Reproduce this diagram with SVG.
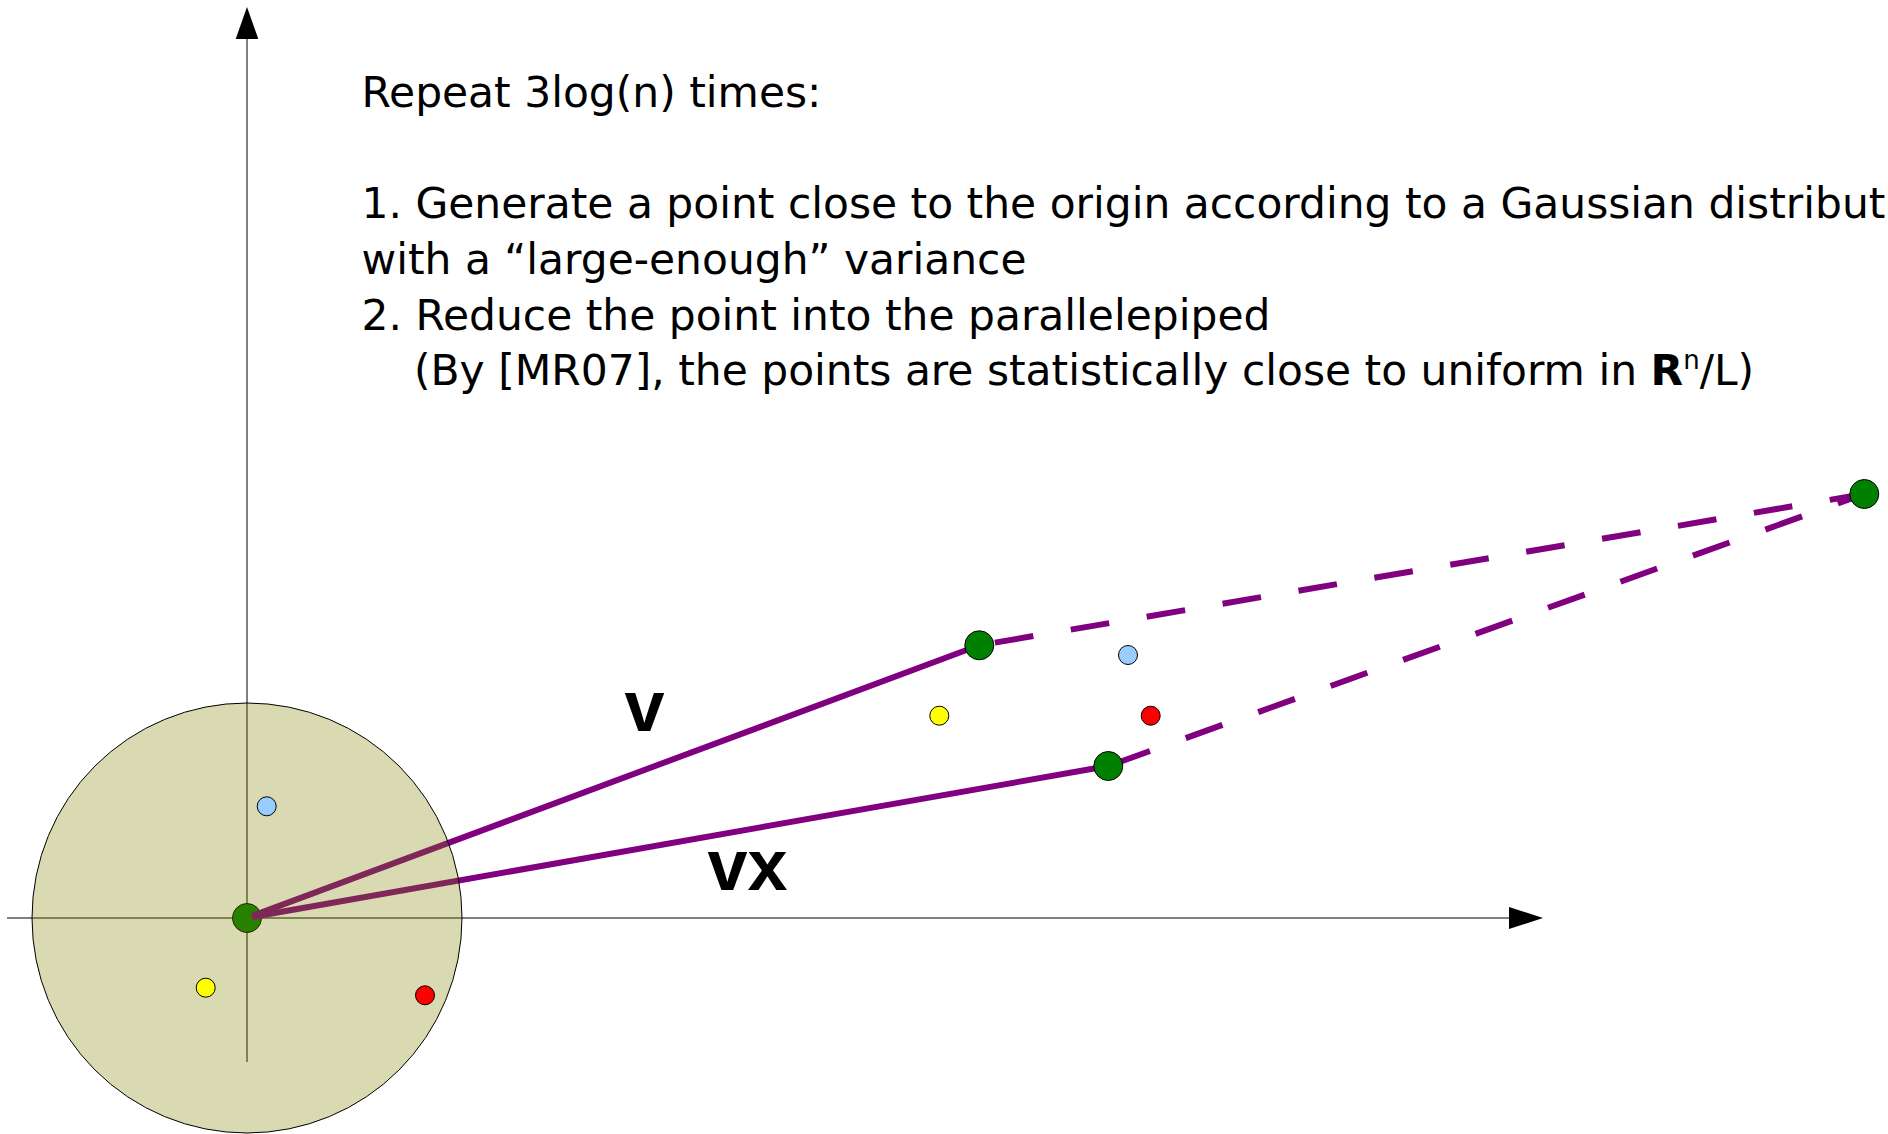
<svg xmlns="http://www.w3.org/2000/svg" width="1888" height="1134" viewBox="0 0 1888 1134">
<defs>
<style>
.axis{stroke:#000;stroke-width:1;fill:none}
.head{fill:#000}
.vec{stroke:#800080;stroke-width:6;fill:none}
.dash{stroke:#800080;stroke-width:6;fill:none;stroke-dasharray:39 38}
.big{fill:#008000;stroke:#000;stroke-width:1}
.sm{stroke:#000;stroke-width:1}
.txt{font-family:"DejaVu Sans","Liberation Sans",sans-serif;font-size:42.4px;fill:#000}
.lbl{font-family:"Liberation Sans","DejaVu Sans",sans-serif;font-weight:bold;font-size:72px;fill:#000}
</style>
</defs>
<rect width="1888" height="1134" fill="#fff"/>
<g id="axes">
<line class="axis" x1="247" y1="1062" x2="247" y2="38"/>
<polygon class="head" points="247,7 235.7,39 258.3,39"/>
<line class="axis" x1="7" y1="918" x2="1510" y2="918"/>
<polygon class="head" points="1543,918 1509,907 1509,929"/>
</g>
<g id="node-origin"><circle class="big" cx="247" cy="918" r="14.5"/></g>
<g id="connectors">
<line class="vec" x1="252" y1="916" x2="979.3" y2="645.3"/>
<line class="vec" x1="252" y1="917" x2="1108.3" y2="766"/>
<line class="dash" style="stroke-dashoffset:61.2" x1="979.3" y1="645.3" x2="1864.3" y2="494"/>
<line class="dash" style="stroke-dashoffset:71.7" x1="1108.3" y1="766" x2="1864.3" y2="494"/>
</g>
<g id="node-disc"><circle cx="247" cy="918" r="215" fill="#808000" fill-opacity="0.3" stroke="#000" stroke-width="1"/></g>
<g id="node-blue-in"><circle class="sm" cx="266.7" cy="806.3" r="9.5" fill="#99ccff"/></g>
<g id="node-yellow-in"><circle class="sm" cx="205.7" cy="987.7" r="9.5" fill="#ffff00"/></g>
<g id="node-red-in"><circle class="sm" cx="425" cy="995.3" r="9.5" fill="#ff0000"/></g>
<g id="node-blue-out"><circle class="sm" cx="1128" cy="655" r="9.5" fill="#99ccff"/></g>
<g id="node-yellow-out"><circle class="sm" cx="939.3" cy="715.7" r="9.5" fill="#ffff00"/></g>
<g id="node-red-out"><circle class="sm" cx="1150.7" cy="715.7" r="9.5" fill="#ff0000"/></g>
<g id="node-v"><circle class="big" cx="979.3" cy="645.3" r="14.5"/></g>
<g id="node-vx"><circle class="big" cx="1108.3" cy="766" r="14.5"/></g>
<g id="node-sum"><circle class="big" cx="1864.3" cy="494" r="14.5"/></g>
<g id="labels">
<text class="lbl" x="624.5" y="731">v</text>
<text class="lbl" x="707.5" y="890">vx</text>
</g>
<g id="text">
<text class="txt" x="361.5" y="107">Repeat 3log(n) times:</text>
<text class="txt" x="361.5" y="218">1. Generate a point close to the origin according to a Gaussian distribut</text>
<text class="txt" x="361.5" y="274">with a “large-enough” variance</text>
<text class="txt" x="361.5" y="329.5">2. Reduce the point into the parallelepiped</text>
<text class="txt" x="414" y="385">(By [MR07], the points are statistically close to uniform in <tspan font-weight="bold">R</tspan><tspan font-size="26" dy="-16">n</tspan><tspan dy="16">/L)</tspan></text>
</g>
</svg>
